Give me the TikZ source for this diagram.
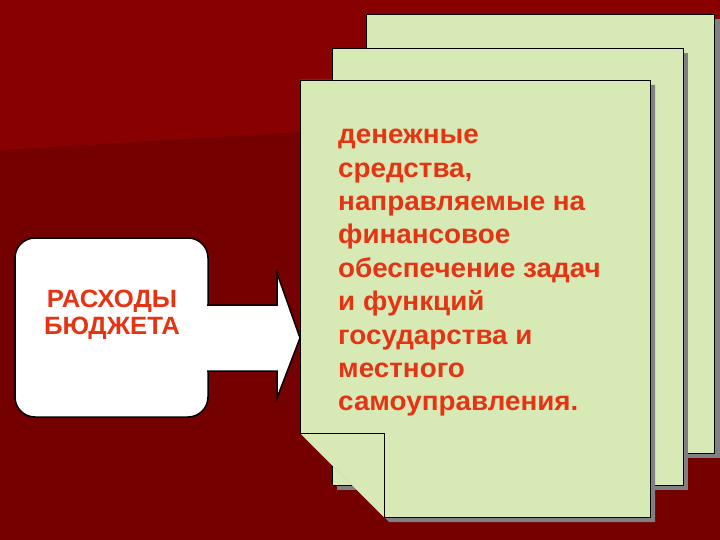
\documentclass[tikz,border=0pt]{standalone}
\usepackage{fontspec}
\setmainfont{Liberation Sans}
\newfontfamily\widefont[FakeStretch=1.03]{Liberation Sans}
\newfontfamily\boxfont[FakeStretch=1.03]{Liberation Sans}
\definecolor{bgup}{RGB}{136,0,0}
\definecolor{bglow}{RGB}{116,0,0}
\definecolor{pagegreen}{RGB}{215,234,181}
\definecolor{shadowgray}{RGB}{128,128,128}
\definecolor{txtred}{RGB}{228,52,20}
\begin{document}
\begin{tikzpicture}[x=1pt,y=-1pt,
  pagestyle/.style={fill=pagegreen, draw=black, line width=0.8pt},
  shadowstyle/.style={fill=shadowgray},
  redtext/.style={text=txtred, inner sep=0pt}]
\useasboundingbox (0,0) rectangle (720,540);
% background
\fill[bglow] (0,0) rectangle (720,540);
\fill[bgup] (0,0) -- (720,0) -- (720,107) -- (0,150) -- cycle;
% back page
\fill[shadowstyle] (371,19) rectangle (720,458);
\draw[pagestyle] (366,14) rectangle (714,453);
% middle page
\fill[shadowstyle] (337,53) rectangle (688,490);
\draw[pagestyle] (332,48) rectangle (683,485);
% front page
\fill[shadowstyle] (305,85) -- (655,85) -- (655,522) -- (389,522) -- (305,438) -- cycle;
\fill[pagegreen] (300,80) -- (650,80) -- (650,517) -- (384,517) -- (300,433) -- cycle;
\draw[black, line width=0.8pt] (300,433) -- (300,80) -- (650,80) -- (650,517) -- (384,517);
\filldraw[pagestyle] (300,433) -- (384,433) -- (384,517);
% left box
\node[draw=black, fill=white, line width=1.5pt, rounded corners=20pt,
      minimum width=193pt, minimum height=179pt, inner sep=0pt] (budget) at (111.5,327.5) {};
\node[redtext, align=center, font=\boxfont\bfseries\fontsize{25}{27}\selectfont, anchor=north] (budgettext) at (112,290) {РАСХОДЫ\\БЮДЖЕТА};
% block arrow
\fill[white] (205,305) -- (277,305) -- (277,273) -- (300,338) -- (277,398) -- (277,371) -- (205,371) -- cycle;
\draw[black, line width=1.5pt, line join=miter] (207,305) -- (277,305) -- (277,273) -- (300,338) -- (277,398) -- (277,371) -- (207,371);
% definition text
\node[redtext, align=left, anchor=north west, font=\widefont\bfseries\fontsize{27}{33.4}\selectfont] (definition) at (338,129)
  {денежные\\средства,\\направляемые на\\финансовое\\обеспечение задач\\и функций\\государства и\\местного\\самоуправления.};
\end{tikzpicture}
\end{document}
